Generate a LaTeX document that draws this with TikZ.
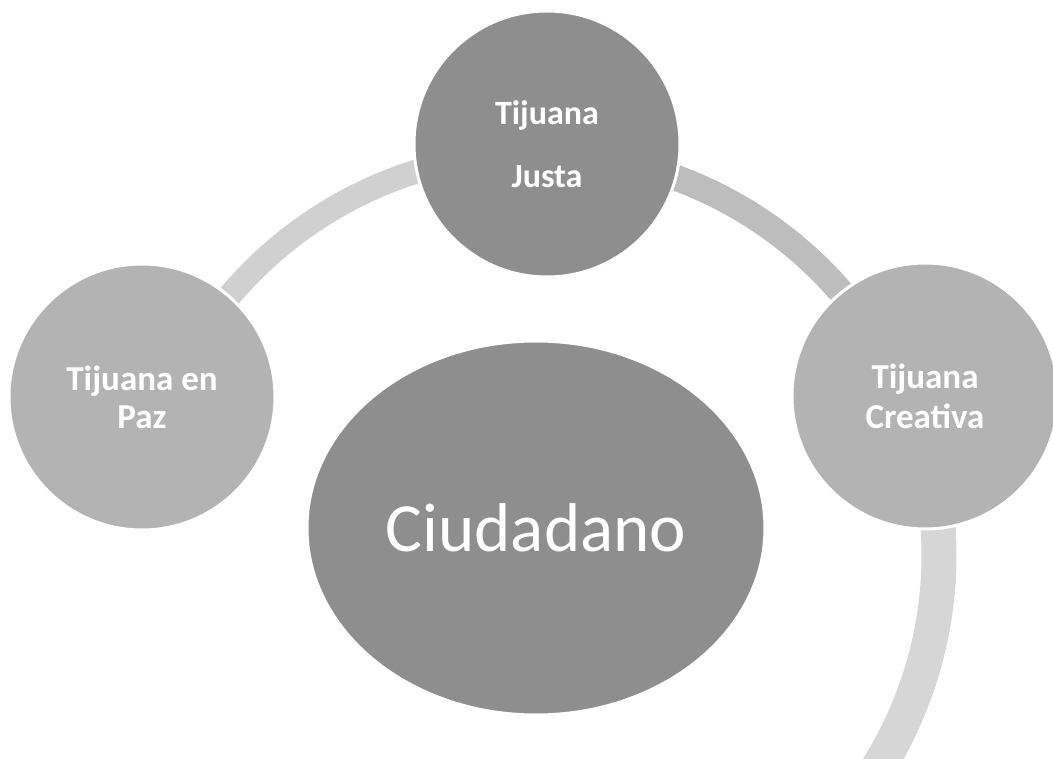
\documentclass[tikz,border=0pt]{standalone}
\usepackage{fontspec}
\setmainfont{Carlito}
\usetikzlibrary{shapes.geometric,calc}
\definecolor{darkfill}{HTML}{8E8E8E}
\definecolor{midfill}{HTML}{B3B3B3}
\definecolor{bandA}{HTML}{D0D0D0}
\definecolor{bandB}{HTML}{BDBDBD}
\definecolor{bandC}{HTML}{D6D6D6}
\tikzset{
  ball/.style={circle, inner sep=0pt, minimum size=266pt, draw=white, line width=3pt,
    align=center, text=white},
  smalltxt/.style={font=\bfseries\fontsize{35}{38}\selectfont},
  bandline/.style={line cap=butt},
}
\begin{document}
\begin{tikzpicture}[x=1pt,y=-1pt]
\useasboundingbox (0,0) rectangle (1053,759);
\clip (0,0) rectangle (1053,759);
\coordinate (o) at (537,555);
% bands along the large circle
\coordinate (b1s) at ($(o)+(-150:402)$);
\coordinate (b2s) at ($(o)+(-80:402)$);
\coordinate (b3s) at ($(o)+(-12:402)$);
\draw[bandline, bandA, line width=24pt] (b1s) arc[start angle=-150, end angle=-100, radius=402];
\draw[bandline, bandB, line width=26pt] (b2s) arc[start angle=-80, end angle=-25, radius=402];
\draw[bandline, bandC, line width=35pt] (b3s) arc[start angle=-12, end angle=34, radius=402];
% circles
\node[ball, fill=midfill, smalltxt] (paz) at (142,397) {Tijuana en\\Paz};
\node[ball, fill=midfill, smalltxt, font=\bfseries\fontsize{35}{40}\selectfont] (creativa) at (925,396) {Tijuana\\Creativa};
\node[ball, fill=darkfill, font=\bfseries\fontsize{34}{63}\selectfont] (justa) at (547,144) {Tijuana\\Justa};
\node[ellipse, inner sep=0pt, minimum width=458pt, minimum height=374pt, draw=white, line width=3pt,
  fill=darkfill, text=white, font=\fontsize{69}{80}\selectfont] (ciudadano) at (536,528) {Ciudadano};
\end{tikzpicture}
\end{document}
